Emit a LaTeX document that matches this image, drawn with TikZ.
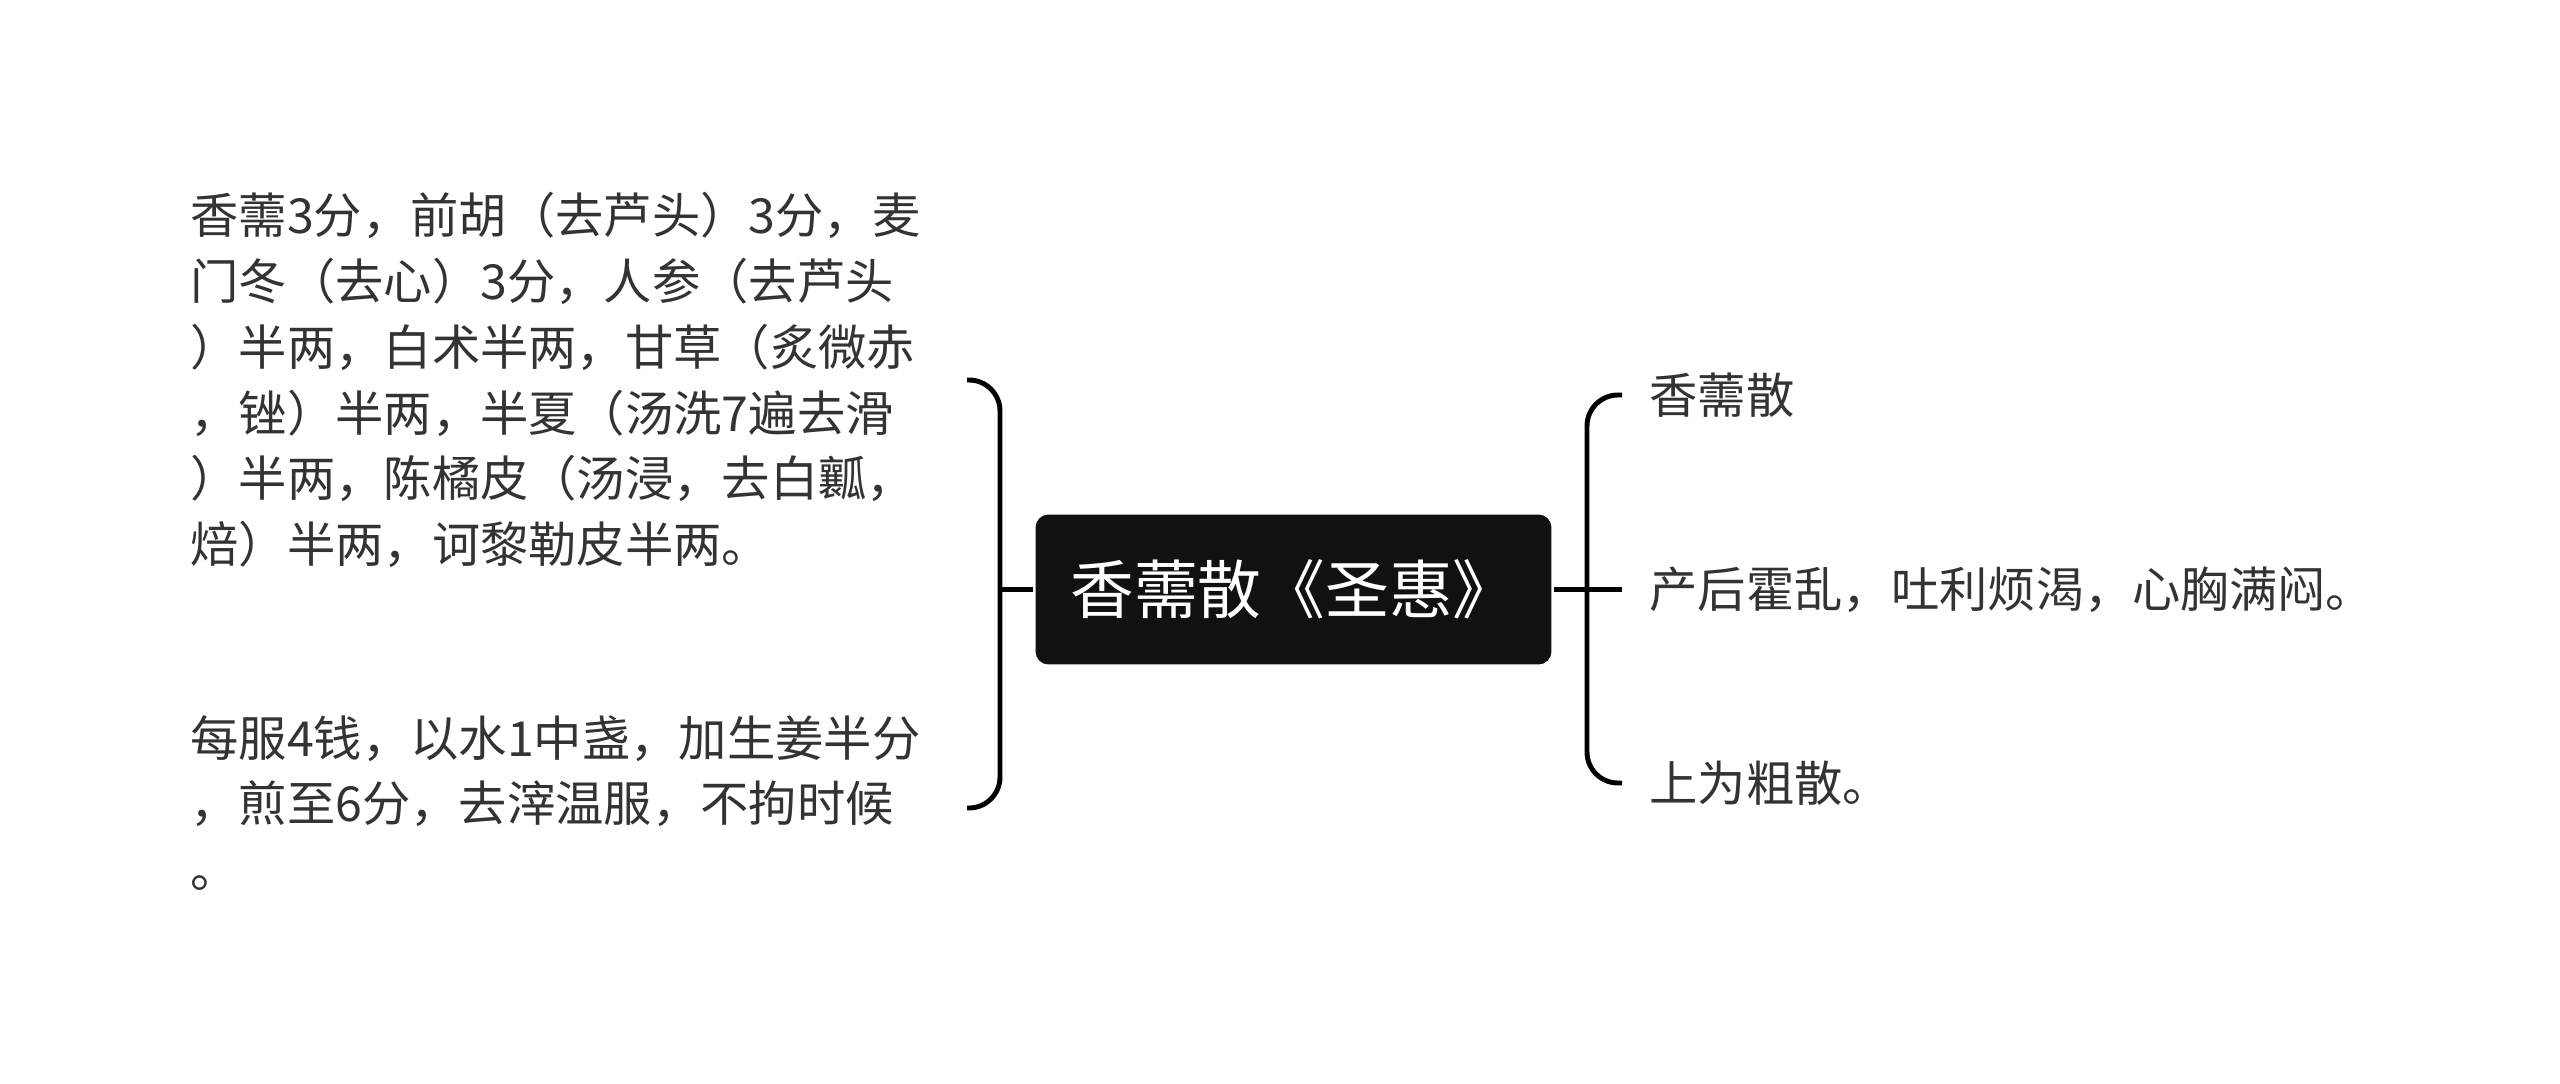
\documentclass[tikz,border=0pt]{standalone}
\usepackage{fontspec}
\setmainfont{Noto Sans CJK SC}
\definecolor{leaftext}{HTML}{333333}
\definecolor{rootfill}{HTML}{111111}

\begin{document}
\begin{tikzpicture}[x=0.02cm,y=-0.02cm,line width=2.8pt,
    rootbox/.style={fill=rootfill,rounded corners=0.26cm,minimum width=10.32cm,
      minimum height=3cm,text=white,font=\fontsize{36.3pt}{42pt}\selectfont},
    leaf/.style={anchor=west,text=leaftext,align=left,inner sep=0pt,
      font=\fontsize{27.5pt}{37.5pt}\selectfont},
    brace/.style={rounded corners=0.62cm}]
    \useasboundingbox (0,0) rectangle (2560,1083);
    % root
    \node[rootbox] (root) at (1293.5,589.5) {香薷散《圣惠》};
    % left side
    \node[leaf] (l1) at (188,380) {香薷3分，前胡（去芦头）3分，麦\\
      门冬（去心）3分，人参（去芦头\\
      ）半两，白术半两，甘草（炙微赤\\
      ，锉）半两，半夏（汤洗7遍去滑\\
      ）半两，陈橘皮（汤浸，去白瓤，\\
      焙）半两，诃黎勒皮半两。};
    \node[leaf] (l2) at (188,803) {每服4钱，以水1中盏，加生姜半分\\
      ，煎至6分，去滓温服，不拘时候\\
      。};
    \coordinate (lmid) at (1000,589.5);
    \coordinate (ltop) at (967,380);
    \coordinate (lbot) at (967,808);
    \draw (root.west) -- (lmid);
    \draw[brace] (ltop) -| (lmid) |- (lbot);
    % right side
    \node[leaf] (r1) at (1647,395) {香薷散};
    \node[leaf] (r2) at (1647,589.5) {产后霍乱，吐利烦渴，心胸满闷。};
    \node[leaf] (r3) at (1647,783) {上为粗散。};
    \coordinate (rmid) at (1587,589.5);
    \draw (root.east) -- ([xshift=-0.5cm]r2.west);
    \draw[brace] ([xshift=-0.5cm]r1.west) -| (rmid) |- ([xshift=-0.5cm]r3.west);
  \end{tikzpicture}
\end{document}
